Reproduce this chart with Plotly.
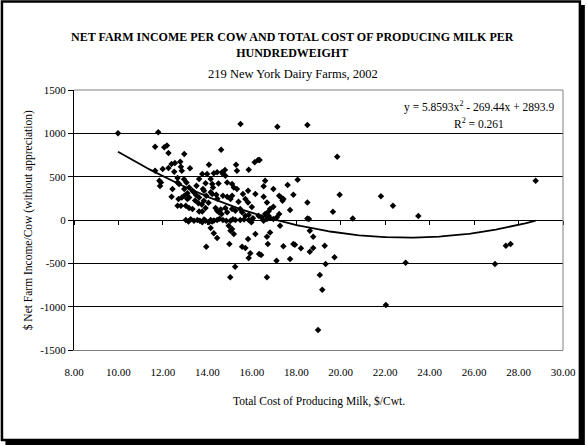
import numpy as np
import plotly.graph_objects as go

# Total cost of producing milk ($/cwt) and net farm income per cow ($)
cost = [
    9.98, 11.79, 11.65, 12.06, 12.18, 12.25, 12.96, 11.65, 11.99, 12.25,
    12.39, 12.54, 12.51, 12.78, 12.81, 12.85, 13.22, 11.84, 11.91, 11.87,
    12.66, 12.73, 12.66, 13.06, 12.43, 12.96, 13.18, 13.33, 13.51, 13.63,
    12.39, 12.70, 12.85, 12.96, 13.18, 13.10, 13.40, 13.48, 13.63, 12.66,
    12.81, 13.03, 13.18, 13.33, 13.60, 13.63, 13.03, 13.15, 13.40, 13.55,
    13.66,
    15.49, 14.62, 14.07, 13.77, 13.99, 14.29, 14.44, 14.66, 14.79, 14.70,
    15.29, 15.33, 15.86, 16.13, 16.28,
    13.80, 13.85, 13.92, 14.15, 14.22, 14.25, 14.81, 14.89, 15.11, 15.19,
    15.33, 15.83, 14.15, 14.22, 14.40, 14.70, 14.89, 15.11,
    13.84, 15.71, 15.83, 16.16, 15.04, 13.92,
    13.77, 14.37, 14.44, 14.52, 14.64, 14.81, 14.89, 15.11, 15.26, 15.48,
    15.56, 15.71, 15.86, 13.77, 13.92, 14.15, 14.07, 14.22, 14.44, 14.70,
    15.04, 15.26, 15.48, 15.86, 15.98, 14.15, 14.96, 15.11, 15.04, 15.19,
    14.29, 14.44, 13.95, 14.99, 15.56, 15.71, 15.83, 16.16, 15.93, 15.86,
    16.33, 15.25, 15.03,
    17.15, 18.50, 16.35, 16.60, 16.53, 16.97, 17.61, 18.06, 16.53, 16.68,
    17.23, 17.32, 17.42, 17.38, 17.87, 18.50, 16.97, 16.82, 16.75, 17.72,
    16.30, 16.43, 16.60, 16.75, 16.82, 16.68, 16.53, 16.97, 17.12, 17.23,
    18.50, 18.57, 17.27, 18.61, 18.76, 16.82, 16.68, 16.72, 17.42, 17.87,
    17.94, 18.21, 18.76, 18.61, 16.42, 17.11, 17.72, 16.68, 19.06,
    19.84, 19.95, 19.65, 20.54, 21.81, 22.35, 23.49, 28.77, 19.28, 27.43,
    27.64, 19.72, 19.32, 19.17, 18.98, 22.92, 22.03, 26.94,
    13.25, 13.85, 14.30, 14.55, 14.85, 15.15, 15.65, 16.05, 13.45, 13.95,
    14.45, 14.60, 15.40, 16.00, 13.10, 13.75, 14.05, 15.60, 12.95, 14.50,
]
income = [
    1000, 1013, 846, 838, 861, 774, 762, 569, 589, 600,
    647, 658, 558, 673, 615, 569, 596, 454, 434, 392,
    485, 416, 434, 434, 358, 358, 376, 338, 396, 473,
    269, 242, 261, 281, 261, 242, 319, 292, 261, 165,
    165, 165, 139, 127, 192, 99, 0, -16, -8, 0,
    -8,
    1108, 812, 638, 531, 531, 538, 550, 550, 577, 531,
    638, 569, 581, 665, 693,
    358, 338, 423, 473, 416, 376, 512, 434, 416, 376,
    358, 338, 319, 300, 292, 281, 269, 281,
    223, 242, 203, 300, 242, 139,
    99, 139, 107, 88, 69, 139, 88, 127, 107, 127,
    88, 50, 58, -27, -8, 0, -27, -16, 0, 0,
    -8, 0, 0, 0, -27, -92, -66, -104, -124, -162,
    -154, -208, -308, -277, -308, -323, -219, -162, -385, -439,
    -393, -539, -662,
    1077, 1097, 693, 454, 388, 358, 404, 465, 269, 203,
    281, 261, 242, 223, 292, 203, 154, 127, 99, 115,
    50, 30, 69, 50, 23, 12, -8, 12, 30, 69,
    18, 12, -66, -124, -193, -143, -193, -277, -304, -277,
    -285, -327, -323, -366, -404, -470, -450, -662, -635,
    731, 292, 96, 18, 273, 165, 46, 454, -296, -296,
    -277, -431, -508, -805, -1270, -493, -981, -508,
    10, 5, -5, 15, -10, 10, 5, 20, 225, 280,
    245, 120, 210, 150, 310, 180, 200, 300, 470, 420,
]

# Polynomial trendline shown on the chart
trend_coef = [5.8593, -269.44, 2893.9]
trend_label = "y = 5.8593x<sup>2</sup> - 269.44x + 2893.9"
r2_label = "R<sup>2</sup> = 0.261"

x_tick_vals = [8, 10, 12, 14, 16, 18, 20, 22, 24, 26, 28, 30]
x_tick_labels = ["8.00", "10.00", "12.00", "14.00", "16.00", "18.00",
                 "20.00", "22.00", "24.00", "26.00", "28.00", "30.00"]
y_tick_vals = [-1500, -1000, -500, 0, 500, 1000, 1500]
y_tick_labels = ["-1500", "-1000", "-500", "0", "500", "1000", "1500"]

W, H = 588, 445
ML, MR, MT, MB = 74, 22, 90, 95
PW, PH = W - ML - MR, H - MT - MB


def px_x(p):
    return (p - ML) / PW


def px_y(p):
    return (H - MB - p) / PH


FONT = "Liberation Serif"

tx = np.linspace(min(cost), max(cost), 200)
ty = np.polyval(trend_coef, tx)

fig = go.Figure()
fig.add_trace(go.Scatter(
    x=cost, y=income, mode="markers",
    marker=dict(symbol="diamond", size=5, color="black"),
    showlegend=False, hoverinfo="x+y"))
fig.add_trace(go.Scatter(
    x=tx, y=ty, mode="lines", line=dict(color="black", width=1.8),
    showlegend=False, hoverinfo="skip"))
# invisible trace to carry the zero-line tick axis
fig.add_trace(go.Scatter(x=[8, 30], y=[0, 0], xaxis="x2", mode="markers",
                         marker=dict(opacity=0), showlegend=False,
                         hoverinfo="skip"))

fig.update_layout(
    width=W, height=H,
    margin=dict(l=ML, r=MR, t=MT, b=MB),
    paper_bgcolor="white", plot_bgcolor="rgba(0,0,0,0)",
    font=dict(family=FONT, color="black", size=11),
    xaxis=dict(range=[8, 30], tickvals=x_tick_vals, ticktext=x_tick_labels,
               showgrid=False, zeroline=False, showline=True,
               linecolor="#808080", linewidth=1,
               ticks="outside", ticklen=12, tickcolor="rgba(0,0,0,0)",
               tickfont=dict(family=FONT, size=11, color="black")),
    xaxis2=dict(range=[8, 30], overlaying="x", anchor="free", position=0.5,
                tickvals=x_tick_vals, showticklabels=False, showgrid=False,
                zeroline=False, showline=False, ticks="outside", ticklen=4,
                tickcolor="black", tickwidth=1),
    yaxis=dict(range=[-1500, 1500], tickvals=y_tick_vals,
               ticktext=y_tick_labels, showgrid=True, gridcolor="black",
               gridwidth=1, zeroline=True, zerolinecolor="black",
               zerolinewidth=1, showline=True, linecolor="black",
               linewidth=1, ticks="outside", ticklen=5, tickcolor="black",
               tickfont=dict(family=FONT, size=11, color="black")),
    shapes=[
        # chart frame with shadow
        dict(type="rect", xref="paper", yref="paper", layer="below",
             x0=px_x(5), x1=px_x(588), y0=px_y(445), y1=px_y(5),
             fillcolor="black", line=dict(width=0)),
        dict(type="rect", xref="paper", yref="paper", layer="below",
             x0=px_x(1.5), x1=px_x(583), y0=px_y(440), y1=px_y(1.5),
             fillcolor="white", line=dict(color="black", width=2.5)),
        # plot area border (top and right)
        dict(type="line", xref="paper", yref="paper", layer="above",
             x0=0, x1=1, y0=1, y1=1, line=dict(color="#808080", width=1)),
        dict(type="line", xref="paper", yref="paper", layer="above",
             x0=1, x1=1, y0=0, y1=1, line=dict(color="#808080", width=1)),
    ],
    annotations=[
        dict(text="<b>NET FARM INCOME PER COW AND TOTAL COST OF PRODUCING MILK PER"
                  "<br>HUNDREDWEIGHT</b>",
             xref="paper", yref="paper", x=px_x(294), y=px_y(45.5),
             xanchor="center", yanchor="middle", showarrow=False,
             font=dict(family=FONT, size=12)),
        dict(text="219 New York Dairy Farms, 2002",
             xref="paper", yref="paper", x=px_x(294), y=px_y(74),
             xanchor="center", yanchor="middle", showarrow=False,
             font=dict(family=FONT, size=12.5)),
        dict(text="Total Cost of Producing Milk, $/Cwt.",
             xref="paper", yref="paper", x=0.5, y=px_y(401),
             xanchor="center", yanchor="middle", showarrow=False,
             font=dict(family=FONT, size=11.5)),
        dict(text="$ Net Farm Income/Cow (without appreciation)",
             xref="paper", yref="paper", x=px_x(28), y=0.5, textangle=-90,
             xanchor="center", yanchor="middle", showarrow=False,
             font=dict(family=FONT, size=11.5)),
        dict(text=trend_label, xref="paper", yref="paper",
             x=px_x(481), y=px_y(106), xanchor="center", yanchor="middle",
             showarrow=False, font=dict(family=FONT, size=11.5)),
        dict(text=r2_label, xref="paper", yref="paper",
             x=px_x(481), y=px_y(123), xanchor="center", yanchor="middle",
             showarrow=False, font=dict(family=FONT, size=11.5)),
    ],
)

fig.write_html("out.html",
               config={"displayModeBar": False},
               post_script="document.body.style.margin='0';"
                           "document.body.style.overflow='hidden';")
